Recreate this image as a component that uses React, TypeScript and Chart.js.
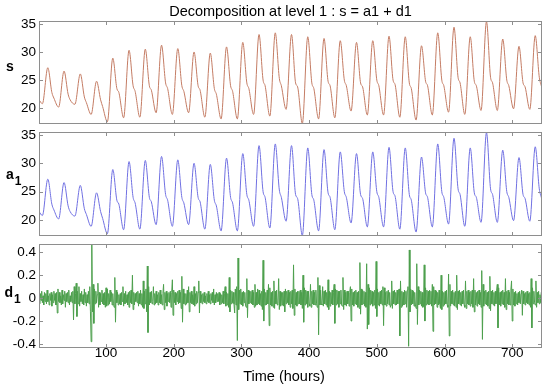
import React, { useEffect, useRef } from "react";
import { Chart, registerables } from "chart.js";

Chart.register(...registerables);

const FONT = "'Liberation Sans', Arial, Helvetica, sans-serif";
const AXIS_COLOR = "#8e8e8e";
const S_COLOR = "#c47c64";
const A_COLOR = "#7070e2";
const D_COLOR = "#4c9f4c";

const X_MIN = 1;
const X_MAX = 744;

// Tick labels
const xTicks = [100, 200, 300, 400, 500, 600, 700];
const sTicks = [20, 25, 30, 35];
const dTicks = [-0.4, -0.2, 0, 0.2, 0.4];

// Hour of day (within each 24h block) at which the daily key values occur
const troughHour = 6;
const peakHour = 14;
const shoulderAHour = 20;
const shoulderBHour = 23;

// Signal / approximation key values read per day (31 days)
const startValue = 21.5; // hour 1
const endValue = 23.6; // hour 744
const dailyTrough = [20.8, 20.2, 20.7, 18.9, 17.6, 18.3, 18.4, 19.2, 18.9, 19.2, 18.4, 18.1, 18.1, 18.9, 18.6, 19.8, 17.3, 18.1, 18.3, 19.5, 18.8, 18.8, 18.4, 17.9, 18.8, 19.3, 18.9, 19.6, 19.6, 19.9, 19.8];
const dailyPeak = [27.2, 26.6, 26.1, 24.8, 28.9, 30.3, 30.5, 31.2, 30.6, 30.0, 29.8, 30.9, 31.7, 33.1, 33.4, 33.1, 32.7, 32.4, 32.0, 31.7, 32.0, 32.8, 32.7, 31.1, 33.4, 34.4, 32.7, 35.4, 32.3, 31.0, 32.9];
const eveningShoulderA = [22.8, 22.5, 22.0, 21.5, 23.5, 24.0, 24.0, 24.5, 24.0, 24.0, 23.5, 24.0, 24.5, 25.0, 25.3, 24.5, 24.5, 24.8, 25.0, 24.5, 25.0, 25.0, 24.5, 24.8, 25.0, 25.5, 24.8, 25.5, 25.0, 24.5, 25.5];
const eveningShoulderB = [21.8, 21.5, 21.0, 20.3, 22.8, 23.0, 23.2, 23.5, 23.0, 23.2, 22.5, 23.0, 23.5, 24.0, 24.0, 23.8, 23.5, 24.0, 24.0, 23.8, 24.0, 24.2, 23.5, 24.0, 24.0, 24.5, 24.0, 24.5, 24.0, 23.8, 24.0];

// Detail d1, one row of 24 hourly values per day
const detailDay01 = [.03,-.05,.04,-.02,.06,-.04,.02,-.06,.05,-.03,.04,-.05,.07,-.03,.02,-.06,.04,-.02,.05,-.07,.03,-.04,.06,-.02];
const detailDay02 = [.04,-.06,.05,-.13,.08,-.03,.05,-.04,.02,-.06,.07,-.05,.03,-.02,.06,-.08,.04,-.03,.05,-.04,.07,-.06,.02,-.03];
const detailDay03 = [.05,-.04,.06,-.19,.1,-.05,.04,.13,-.16,.06,-.05,.1,-.07,.04,-.03,.06,-.05,.03,-.06,.08,-.04,.05,-.07,.03];
const detailDay04 = [-.04,.06,-.05,.1,-.12,-.38,.47,-.12,.12,-.22,.08,-.05,.06,-.04,.03,.13,-.08,.05,-.06,.04,-.03,.07,-.05,.04];
const detailDay05 = [-.06,.05,-.08,.09,-.07,.08,-.06,.04,-.05,.07,-.03,.05,-.06,.04,-.05,-.08,.18,-.21,.07,-.04,.05,-.06,.03,-.05];
const detailDay06 = [.04,-.06,.05,-.03,.1,-.07,.04,-.05,.06,-.04,.03,-.06,.05,-.08,.06,-.04,.07,-.05,.2,-.1,.05,-.06,.04,-.03];
const detailDay07 = [.05,-.04,.06,-.07,.04,-.05,.07,-.06,.04,-.08,.15,-.09,.06,-.05,.08,-.12,.28,-.3,.1,-.06,.05,-.04,.06,-.05];
const detailDay08 = [-.03,.1,-.06,.04,-.05,.06,-.04,.03,-.06,.05,-.04,.07,-.05,.03,-.06,.04,.12,-.1,.05,-.04,.06,-.07,.04,-.03];
const detailDay09 = [.05,-.04,.06,-.08,.05,.16,-.15,.07,-.04,.05,-.06,.04,-.03,.06,-.05,.07,-.04,.05,-.09,.19,-.21,.08,-.05,.04];
const detailDay10 = [-.06,.04,-.05,.07,-.04,.1,-.12,.05,-.04,.06,-.05,.03,-.06,.1,-.07,.04,-.05,.06,-.04,.05,.15,-.13,.06,-.04];
const detailDay11 = [.03,-.05,.04,-.03,.05,-.04,.02,-.05,.04,-.03,.06,-.04,.03,-.05,.04,-.02,.05,-.04,.08,-.06,.03,-.04,.05,-.03];
const detailDay12 = [.04,-.03,.05,-.06,.04,-.05,.03,-.04,.06,-.05,.04,.1,-.07,.05,-.06,.04,-.08,.18,-.12,.07,-.05,.06,-.04,.05];
const detailDay13 = [-.05,-.13,.08,-.06,.1,-.37,.35,-.1,.07,-.05,.08,-.06,.05,-.07,.06,-.04,.05,-.06,-.08,.17,-.17,.07,-.05,.06];
const detailDay14 = [-.04,.06,-.05,.07,-.06,.05,-.08,.12,-.07,.05,-.06,.08,-.05,.07,-.06,.04,-.07,.06,-.1,.33,-.2,.08,-.06,.05];
const detailDay15 = [-.06,.07,-.05,.12,-.24,.09,-.06,.05,-.07,.06,-.08,.15,-.09,.06,-.05,.07,-.06,-.05,.17,-.1,.06,-.07,.05,-.06];
const detailDay16 = [.05,-.07,.06,-.12,.08,-.05,.06,-.04,.07,-.06,.05,-.08,.06,-.05,.07,-.09,.29,-.15,.08,-.06,.05,-.07,.06,-.05];
const detailDay17 = [.06,-.05,.07,-.06,.05,-.09,.2,-.21,.09,-.06,.07,-.05,.06,-.08,.06,-.05,-.07,.12,-.08,.06,-.05,.07,-.06,.05];
const detailDay18 = [-.06,.07,-.05,-.08,.18,-.32,.11,-.06,.07,-.05,-.06,.1,-.07,.06,-.05,.07,-.06,.05,-.08,.16,-.1,.06,-.07,.05];
const detailDay19 = [-.05,.07,-.06,.05,.12,-.22,.08,-.06,.07,-.05,.06,-.08,.06,-.05,.07,-.06,-.07,.18,-.1,.07,-.06,.05,-.07,.06];
const detailDay20 = [-.05,.06,-.07,.05,.1,-.2,.08,-.06,.05,-.07,.06,-.05,.07,-.06,.05,-.08,.06,-.09,.31,-.14,.08,-.06,.07,-.05];
const detailDay21 = [.06,-.07,.05,-.08,.3,-.27,.12,-.23,.09,-.06,.07,-.05,.06,-.07,.05,-.06,.07,-.09,.32,-.16,.08,-.06,.05,-.07];
const detailDay22 = [.06,-.05,.07,-.06,.1,-.24,.09,-.06,.05,-.07,.06,-.05,.07,-.06,.05,-.08,-.06,.15,-.09,.06,-.05,.07,-.06,.05];
const detailDay23 = [-.06,.07,-.05,.06,.08,-.33,.15,-.08,.06,-.07,.05,-.06,.07,-.05,.06,-.08,.07,.1,-.42,.42,-.12,.08,-.06,.07];
const detailDay24 = [-.05,.06,-.07,.05,-.06,-.09,.3,-.23,.1,-.06,.07,-.05,.06,-.07,.05,-.08,-.07,.29,-.2,.09,-.06,.07,-.05,.06];
const detailDay25 = [-.06,.07,-.05,.06,-.07,.12,-.29,.1,-.06,.07,-.05,.06,-.08,.05,-.06,.07,-.05,-.09,.2,-.1,.06,-.07,.05,-.06];
const detailDay26 = [.06,-.05,.07,-.06,-.08,.21,-.33,.12,-.07,.06,-.05,.07,-.06,.05,-.07,.06,-.08,.2,-.1,.06,-.05,.07,-.06,.05];
const detailDay27 = [-.07,.06,-.05,.07,-.06,-.08,.15,-.09,.06,-.05,.07,-.06,.05,-.07,.06,-.05,.07,-.08,.17,-.12,.07,-.06,.05,-.07];
const detailDay28 = [.06,-.05,.07,-.06,.05,-.08,.24,-.36,.12,-.07,.06,-.05,.07,-.06,.05,-.07,.06,-.09,.19,-.11,.06,-.05,.07,-.06];
const detailDay29 = [.05,-.07,.06,-.05,.07,.12,-.26,.09,-.06,.05,-.07,.06,-.05,.07,-.06,.05,-.08,.17,-.1,.06,-.05,.07,-.06,.05];
const detailDay30 = [-.06,.07,.15,-.2,.08,-.06,.05,-.07,.06,-.05,.04,-.06,.05,-.04,.06,-.05,.04,.07,-.15,.06,-.05,.04,-.06,.05];
const detailDay31 = [-.04,.06,-.05,.04,-.06,.05,-.08,.17,-.26,.09,-.05,.06,-.04,-.06,.15,-.08,.05,-.04,.06,-.05,.03,-.04,.05,-.03];

const detailDays = [
  detailDay01, detailDay02, detailDay03, detailDay04, detailDay05, detailDay06, detailDay07, detailDay08,
  detailDay09, detailDay10, detailDay11, detailDay12, detailDay13, detailDay14, detailDay15, detailDay16,
  detailDay17, detailDay18, detailDay19, detailDay20, detailDay21, detailDay22, detailDay23, detailDay24,
  detailDay25, detailDay26, detailDay27, detailDay28, detailDay29, detailDay30, detailDay31,
];

const S_RANGE = [17.2, 35.5];
const D_RANGE = [-0.435, 0.472];

function buildSignalPoints() {
  const pts: { x: number; y: number }[] = [{ x: X_MIN, y: startValue }];
  for (let k = 0; k < dailyPeak.length; k++) {
    const base = 24 * k;
    pts.push({ x: base + troughHour, y: dailyTrough[k] });
    pts.push({ x: base + peakHour, y: dailyPeak[k] });
    pts.push({ x: base + shoulderAHour, y: eveningShoulderA[k] });
    if (base + shoulderBHour < X_MAX) pts.push({ x: base + shoulderBHour, y: eveningShoulderB[k] });
  }
  pts.push({ x: X_MAX, y: endValue });
  return pts;
}

function buildDetailPoints() {
  const pts: { x: number; y: number }[] = [];
  detailDays.forEach((row, k) => {
    row.forEach((v, h) => pts.push({ x: 24 * k + h + 1, y: v }));
  });
  return pts;
}

const boxPlugin = {
  id: "matlabBox",
  afterDraw(chart: any, _args: any, opts: any) {
    const { ctx, chartArea: a, scales } = chart;
    const xs = scales.x;
    const ys = scales.y;
    ctx.save();
    ctx.strokeStyle = AXIS_COLOR;
    ctx.lineWidth = 1;
    ctx.strokeRect(a.left + 0.5, a.top + 0.5, a.right - a.left - 1, a.bottom - a.top - 1);
    ctx.beginPath();
    const tl = 4;
    (opts.xTicks || []).forEach((v: number) => {
      const x = Math.round(xs.getPixelForValue(v)) + 0.5;
      ctx.moveTo(x, a.bottom);
      ctx.lineTo(x, a.bottom - tl);
      ctx.moveTo(x, a.top);
      ctx.lineTo(x, a.top + tl);
    });
    (opts.yTicks || []).forEach((v: number) => {
      const y = Math.round(ys.getPixelForValue(v)) + 0.5;
      ctx.moveTo(a.left, y);
      ctx.lineTo(a.left + tl, y);
      ctx.moveTo(a.right, y);
      ctx.lineTo(a.right - tl, y);
    });
    ctx.stroke();
    ctx.restore();
  },
};

function zeroPadding(s: any) {
  s.paddingTop = 0;
  s.paddingBottom = 0;
  s.paddingLeft = 0;
  s.paddingRight = 0;
}

function makeConfig(opts: {
  data: { x: number; y: number }[];
  color: string;
  range: number[];
  yTicks: number[];
  showX: boolean;
  smooth: boolean;
  padTop: number;
  padBottom: number;
}): any {
  const tickFont = { family: FONT, size: 13.5 };
  return {
    type: "line",
    data: {
      datasets: [
        {
          data: opts.data,
          borderColor: opts.color,
          borderWidth: 1,
          pointRadius: 0,
          fill: false,
          tension: opts.smooth ? 0.4 : 0,
          cubicInterpolationMode: opts.smooth ? "monotone" : "default",
        },
      ],
    },
    options: {
      animation: false,
      responsive: false,
      maintainAspectRatio: false,
      events: [],
      layout: { autoPadding: false, padding: { top: opts.padTop, bottom: opts.padBottom, left: 0, right: 8 } },
      plugins: {
        legend: { display: false },
        tooltip: { enabled: false },
        title: { display: false },
        matlabBox: { xTicks, yTicks: opts.yTicks },
      },
      scales: {
        x: {
          type: "linear",
          min: X_MIN,
          max: X_MAX,
          display: opts.showX,
          grid: { display: false, drawTicks: false },
          border: { display: false },
          ticks: {
            font: tickFont,
            color: "#000",
            padding: -3,
            autoSkip: false,
            maxRotation: 0,
            callback: (v: number) => String(v),
          },
          afterBuildTicks: (s: any) => {
            s.ticks = xTicks.map((v) => ({ value: v }));
          },
          afterFit: (s: any) => {
            s.height = opts.showX ? 42 : 0;
            zeroPadding(s);
          },
        },
        y: {
          type: "linear",
          min: opts.range[0],
          max: opts.range[1],
          grid: { display: false, drawTicks: false },
          border: { display: false },
          ticks: {
            font: tickFont,
            color: "#000",
            padding: 3,
            autoSkip: false,
            callback: (v: number) => String(Math.round(v * 10) / 10),
          },
          afterBuildTicks: (s: any) => {
            s.ticks = opts.yTicks.map((v) => ({ value: v }));
          },
          afterFit: (s: any) => {
            s.width = 39;
            zeroPadding(s);
          },
        },
      },
    },
    plugins: [boxPlugin],
  };
}

const labelStyle: React.CSSProperties = {
  position: "absolute",
  fontFamily: FONT,
  fontWeight: "bold",
  fontSize: 14,
  lineHeight: "14px",
  color: "#000",
  whiteSpace: "nowrap",
};

const subStyle: React.CSSProperties = {
  fontSize: 12,
  position: "relative",
  top: 6,
  marginLeft: 1,
};

export default function App() {
  const c1 = useRef<HTMLCanvasElement>(null);
  const c2 = useRef<HTMLCanvasElement>(null);
  const c3 = useRef<HTMLCanvasElement>(null);

  useEffect(() => {
    document.body.style.margin = "0";
    const sig = buildSignalPoints();
    const det = buildDetailPoints();
    const charts = [
      new Chart(c1.current as HTMLCanvasElement, makeConfig({ data: sig, color: S_COLOR, range: S_RANGE, yTicks: sTicks, showX: false, smooth: true, padTop: 21, padBottom: 4 })),
      new Chart(c2.current as HTMLCanvasElement, makeConfig({ data: sig, color: A_COLOR, range: S_RANGE, yTicks: sTicks, showX: false, smooth: true, padTop: 4, padBottom: 4 })),
      new Chart(c3.current as HTMLCanvasElement, makeConfig({ data: det, color: D_COLOR, range: D_RANGE, yTicks: dTicks, showX: true, smooth: false, padTop: 4, padBottom: 0 })),
    ];
    return () => charts.forEach((c) => c.destroy());
  }, []);

  return (
    <div style={{ position: "absolute", left: 0, top: 0, width: 550, height: 390, background: "#fff", overflow: "hidden" }}>
      <canvas ref={c1} width={550} height={128} style={{ position: "absolute", left: 0, top: 0 }} />
      <canvas ref={c2} width={550} height={112} style={{ position: "absolute", left: 0, top: 128 }} />
      <canvas ref={c3} width={550} height={150} style={{ position: "absolute", left: 0, top: 240 }} />
      <div
        style={{
          position: "absolute",
          left: 39,
          width: 503,
          top: 4.4,
          textAlign: "center",
          fontFamily: FONT,
          fontSize: 14.5,
          lineHeight: "14.5px",
          color: "#000",
          whiteSpace: "nowrap",
        }}
      >
        Decomposition at level 1 : s = a1 + d1
      </div>
      <div style={{ ...labelStyle, left: 6, top: 58.9 }}>s</div>
      <div style={{ ...labelStyle, left: 6, top: 167.2 }}>
        a<span style={subStyle}>1</span>
      </div>
      <div style={{ ...labelStyle, left: 4.5, top: 284.9 }}>
        d<span style={subStyle}>1</span>
      </div>
      <div
        style={{
          position: "absolute",
          left: 200,
          width: 168,
          top: 368.7,
          textAlign: "center",
          fontFamily: FONT,
          fontSize: 14.5,
          lineHeight: "14.5px",
          color: "#000",
          whiteSpace: "nowrap",
        }}
      >
        Time (hours)
      </div>
    </div>
  );
}
